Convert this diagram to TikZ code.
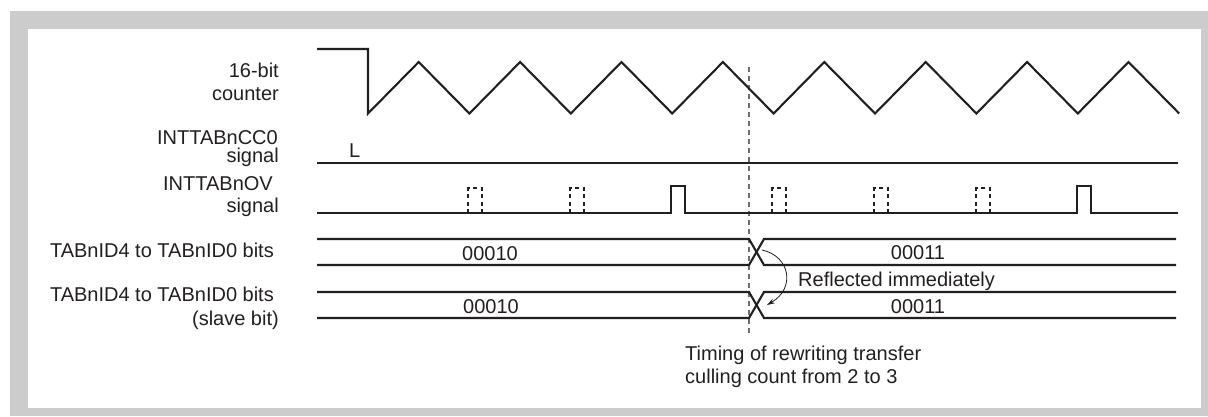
\documentclass[tikz,border=0pt]{standalone}
\usepackage{fontspec}
\setmainfont{Liberation Sans}
\usetikzlibrary{arrows.meta}
\definecolor{ink}{HTML}{231F20}
\definecolor{framegray}{HTML}{CCCCCC}
\definecolor{guide}{HTML}{6D6E71}
\begin{document}
\begin{tikzpicture}[x=1pt,y=-1pt,
  every node/.style={font=\fontsize{20}{24}\selectfont, inner sep=0pt, text=ink},
  lbl/.style={anchor=base east},
  val/.style={anchor=base},
  wave/.style={line width=2.1pt, draw=ink, line join=miter},
  dpulse/.style={line width=2pt, draw=ink, dash pattern=on 4pt off 3.5pt},
  guideline/.style={line width=1.6pt, draw=guide, dash pattern=on 5pt off 4pt},
  reflarrow/.style={line width=0.8pt, draw=ink, -{Stealth[length=8pt,width=5pt]}}]
\useasboundingbox (0,0) rectangle (1208,416);
% frame
\fill[framegray] (10,11) rectangle (1208,416);
\fill[white] (28,29) rectangle (1201,408);
% guide line
\draw[guideline] (749,67) -- (749,333);
% labels
\node[lbl] (l16) at (279,77) {16-bit};
\node[lbl] (lcnt) at (279,100.5) {counter};
\node[lbl] (lcc0) at (278,144.5) {INTTABnCC0};
\node[lbl] (lsig1) at (279,162.5) {signal};
\node[lbl] (lov) at (273,190.5) {INTTABnOV};
\node[lbl] (lsig2) at (279,212.5) {signal};
\node[lbl] (lid1) at (274,257) {TABnID4 to TABnID0 bits};
\node[lbl] (lid2) at (274,301.5) {TABnID4 to TABnID0 bits};
\node[lbl] (lslave) at (279,325.5) {(slave bit)};
% counter
\draw[wave] (317,49) -- (368,49) -- (368,113.5)
  \foreach \k in {0,...,7}{ -- ({418.7+101.4*\k},62) -- ({469.4+101.4*\k},113.5) };
% CC0
\draw[wave] (317,163) -- (1178,163);
\node[anchor=base west] (lL) at (349,157) {L};
% OV
\draw[wave] (317,213) -- (671,213) -- (671,186) -- (685,186) -- (685,213)
  -- (1077,213) -- (1077,186) -- (1091,186) -- (1091,213) -- (1178,213);
\foreach \x in {468,570,772,874,976}{
  \draw[dpulse] (\x,213) -- (\x,188) -- (\x+14,188) -- (\x+14,213);
}
% bus rows
\draw[wave] (317,239) -- (749,239) -- (764,265) -- (1176,265);
\draw[wave] (317,265) -- (749,265) -- (764,239) -- (1176,239);
\draw[wave] (317,292) -- (749,292) -- (764,318) -- (1176,318);
\draw[wave] (317,318) -- (749,318) -- (764,292) -- (1176,292);
\node[val] (v1a) at (490,260) {00010};
\node[val] (v1b) at (918,259) {00011};
\node[val] (v2a) at (491,313) {00010};
\node[val] (v2b) at (918,313) {00011};
\node[anchor=base west] (refl) at (798,286) {Reflected immediately};
% arrow
\coordinate (xa) at (762,250);
\coordinate (xb) at (767,305);
\draw[reflarrow] (xa) .. controls (790,256) and (796,288) .. (xb);
% timing note
\node[anchor=base west] (t1) at (685,360) {Timing of rewriting transfer};
\node[anchor=base west] (t2) at (685,383) {culling count from 2 to 3};
\end{tikzpicture}
\end{document}
